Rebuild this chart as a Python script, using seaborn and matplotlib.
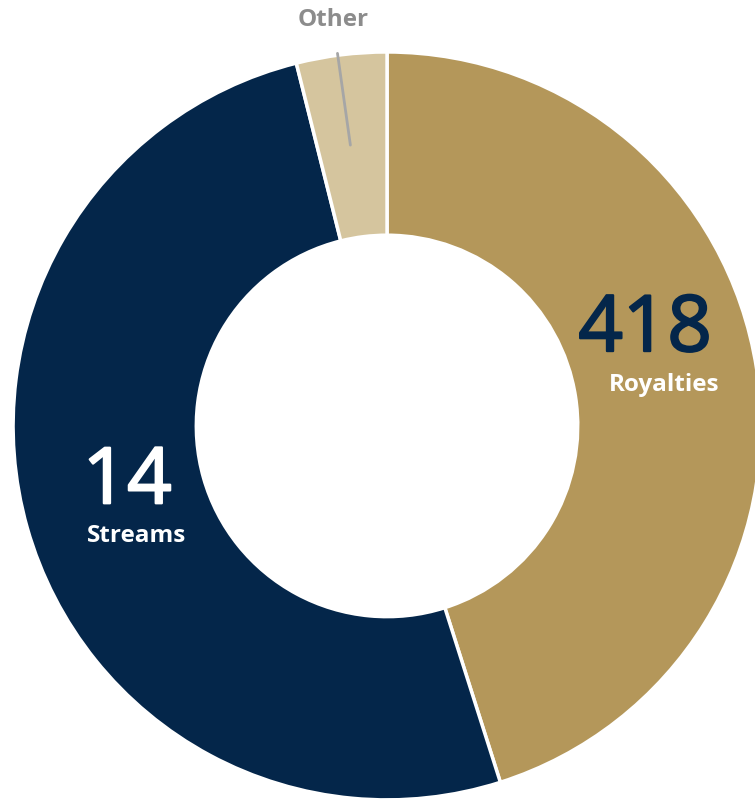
import matplotlib
matplotlib.use("Agg")
import matplotlib.pyplot as plt
import matplotlib.patheffects as pe
import seaborn as sns

sns.set_theme(style="white")
plt.rcParams["font.family"] = ["Open Sans", "DejaVu Sans"]

# shares of the ring (clockwise from the top)
categories = ["Royalties", "Streams", "Other"]
shares = [45.1, 51.0, 3.9]
big_numbers = ["418", "14", ""]
colors = ["#B4975A", "#04264A", "#D5C59E"]

fig = plt.figure(figsize=(7.55, 8.01), dpi=100)
ax = fig.add_axes([0, 0, 1, 1])

wedges, _ = ax.pie(
    shares,
    colors=colors,
    startangle=90,
    counterclock=False,
    radius=1.0,
    wedgeprops=dict(width=0.49, edgecolor="white", linewidth=2.5),
)

ax.set_xlim(-1.035, 0.984)
ax.set_ylim(-1.003, 1.139)
ax.set_aspect("auto")
ax.axis("off")

# Royalties
ax.text(0.69, 0.255, big_numbers[0], color="#04264A", fontsize=56,
        ha="center", va="center",
        path_effects=[pe.withStroke(linewidth=1.6, foreground="#04264A")])
ax.text(0.74, 0.11, categories[0], color="white", fontsize=17.5,
        fontweight="bold", ha="center", va="center")

# Streams
ax.text(-0.695, -0.152, big_numbers[1], color="white", fontsize=56,
        ha="center", va="center",
        path_effects=[pe.withStroke(linewidth=1.6, foreground="white")])
ax.text(-0.67, -0.295, categories[1], color="white", fontsize=17.5,
        fontweight="bold", ha="center", va="center")

# Other, with leader line
ax.annotate(
    categories[2],
    xy=(-0.098, 0.751),
    xytext=(-0.145, 1.085),
    color="#8C8C8C",
    fontsize=17.5,
    fontweight="bold",
    ha="center",
    va="center",
    arrowprops=dict(arrowstyle="-", color="#A6A6A6", lw=2,
                    shrinkA=13, shrinkB=0),
)

plt.savefig("out.png", dpi=100)
